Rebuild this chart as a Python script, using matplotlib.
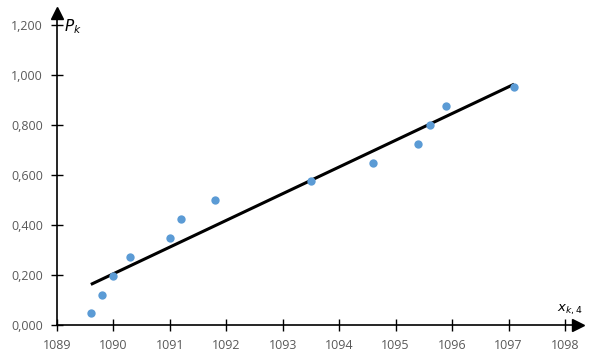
import numpy as np
import matplotlib
matplotlib.use("Agg")
import matplotlib.pyplot as plt
from matplotlib.ticker import FuncFormatter

# data
x_vals = [1089.6, 1089.8, 1090.0, 1090.3, 1091.0, 1091.2, 1091.8,
          1093.5, 1094.6, 1095.4, 1095.6, 1095.9, 1097.1]
p_vals = [0.050, 0.120, 0.198, 0.272, 0.348, 0.424, 0.500,
          0.576, 0.648, 0.724, 0.800, 0.876, 0.952]
x_ticks = [1089, 1090, 1091, 1092, 1093, 1094, 1095, 1096, 1097, 1098]
y_ticks = [0.0, 0.2, 0.4, 0.6, 0.8, 1.0, 1.2]

plt.rcParams['font.family'] = ['Open Sans', 'DejaVu Sans']

fig = plt.figure(figsize=(5.89, 3.63), dpi=100)
ax = fig.add_axes([57 / 589, 38 / 363, 521 / 589, 312 / 363])

# linear trend line through the points
k, b = np.polyfit(x_vals, p_vals, 1)
xl = np.array([min(x_vals), max(x_vals)])
ax.plot(xl, k * xl + b, color='black', linewidth=2.2, zorder=2,
        solid_capstyle='butt')
ax.scatter(x_vals, p_vals, s=36, color='#5B9BD5', zorder=3, linewidths=0)

ax.set_xlim(1089, 1089 + 521 / 56.44)
ax.set_ylim(0, 1.2 + 12 / 250)
ax.set_xticks(x_ticks)
ax.set_yticks(y_ticks)
ax.yaxis.set_major_formatter(FuncFormatter(lambda v, _: f"{v:.3f}".replace('.', ',')))

for s in ['top', 'right']:
    ax.spines[s].set_visible(False)
for s in ['left', 'bottom']:
    ax.spines[s].set_linewidth(1.2)
ax.tick_params(direction='inout', length=8, width=1, colors='black',
               labelcolor='#595959', labelsize=9)
ax.tick_params(axis='y', pad=6)
ax.tick_params(axis='x', pad=6)

# arrow heads at the ends of the axes
ax.plot(1, 0, marker='>', color='black', markersize=8,
        transform=ax.transAxes, clip_on=False)
ax.plot(0, 1, marker='^', color='black', markersize=8,
        transform=ax.transAxes, clip_on=False)

ax.text(0.014, 0.955, r"$P_k$", transform=ax.transAxes, fontsize=11,
        ha='left', va='center')
ax.text(0.985, 0.025, r"$x_{k,4}$", transform=ax.transAxes, fontsize=9.5,
        ha='center', va='bottom')

fig.savefig("out.png", dpi=100)
